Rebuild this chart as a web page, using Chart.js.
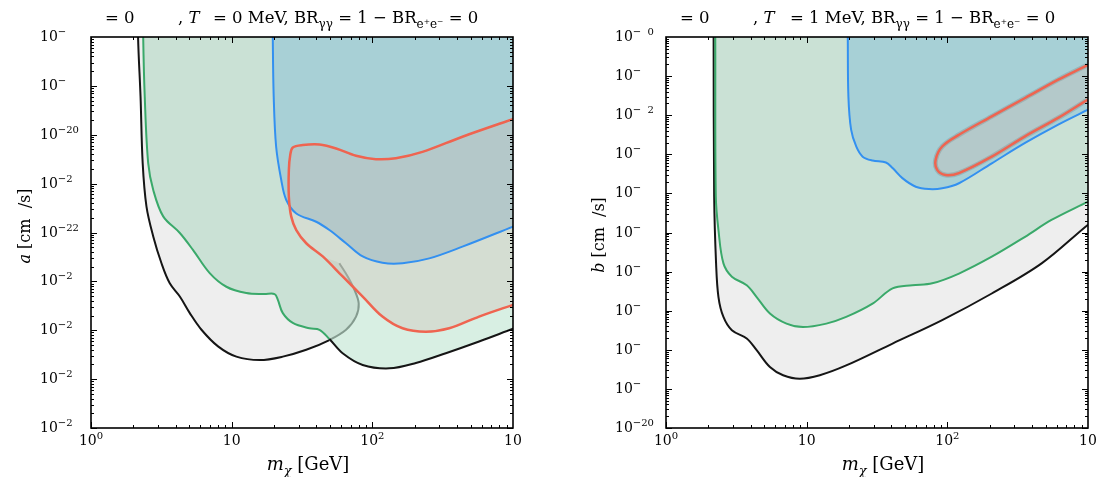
<!DOCTYPE html>
<html>
<head>
<meta charset="utf-8">
<script src="https://cdn.jsdelivr.net/npm/chart.js@4.4.1/dist/chart.umd.min.js"></script>
<style>
  html, body { margin: 0; padding: 0; background: #fff; }
  #wrap { position: relative; width: 1099px; height: 477px; overflow: hidden; }
  canvas { position: absolute; top: 0; }
  #left { left: 0; }
  #right { left: 549px; }
</style>
</head>
<body>
<div id="wrap">
  <canvas id="left" width="549" height="477"></canvas>
  <canvas id="right" width="550" height="477"></canvas>
</div>
<script>
// points are [m_chi in GeV, log10 of the cross section in cm^3/s]
// points past the frame only close the filled shapes

// left panel (T = 0 MeV)
const leftBlack = [[2.15,-17.0],[2.16,-18.0],[2.25,-19.22],[2.33,-20.58],[2.48,-21.47],[2.77,-22.08],[3.17,-22.63],[3.63,-23.04],[4.28,-23.31],[5.04,-23.65],[6.10,-23.99],[8.0,-24.33],[10.8,-24.54],[15.8,-24.61],[23.1,-24.54],[33.9,-24.40],[49.5,-24.20]];
const leftBlackCurl = [[65.0,-23.99],[76.6,-23.72],[80.0,-23.45],[74.5,-23.17],[66.8,-22.90],[58.3,-22.63]];
const leftBlackHidden = [[44.4,-22.49],[33.9,-22.22],[28.8,-21.95],[26.5,-21.67],[24.4,-21.33],[22.5,-20.92],[20.7,-20.24],[19.9,-19.22],[19.6,-18.0],[19.5,-17.0]];
const leftGreen = [[2.34,-17.0],[2.35,-18.0],[2.41,-19.22],[2.55,-20.58],[2.77,-21.13],[3.26,-21.67],[4.28,-22.01],[5.32,-22.36],[6.98,-22.83],[9.17,-23.11],[12.7,-23.24],[17.0,-23.26],[20.2,-23.26],[21.3,-23.38],[23.1,-23.65],[27.2,-23.85],[35.7,-23.96],[42.1,-23.99],[49.5,-24.18]];
const leftGreenLow = [[61.5,-24.47],[85.4,-24.71],[132,-24.78],[204,-24.67],[333,-24.47],[574,-24.23],[1000,-23.97],[1300,-23.85],[1300,-16],[2.3,-16]];
const leftBlue = [[19.5,-17.0],[19.6,-18.0],[19.9,-19.22],[20.7,-20.24],[22.5,-20.92],[24.4,-21.33],[28.8,-21.61],[39.9,-21.78],[49.5,-21.95],[65,-22.22],[85.4,-22.49],[118,-22.62],[164,-22.63],[254,-22.53],[437,-22.29],[1000,-21.88],[1300,-21.75],[1300,-16],[19.5,-16]];
const leftRed = [[1300,-19.57],[1000,-19.68],[437,-20.04],[227,-20.35],[147,-20.48],[106,-20.50],[76.6,-20.43],[55.3,-20.28],[42.1,-20.20],[32.0,-20.21],[27.2,-20.26],[26.1,-20.41],[25.5,-20.72],[25.5,-21.27],[26.5,-21.67],[28.8,-21.95],[33.9,-22.22],[44.4,-22.49],[61.5,-22.90],[85.4,-23.31],[118,-23.72],[164,-23.96],[240,-24.03],[352,-23.96],[574,-23.72],[1000,-23.48],[1300,-23.37]];

// right panel (T = 1 MeV)
const rightBlack = [[2.17,-9],[2.18,-10],[2.20,-14.08],[2.27,-15.79],[2.36,-16.65],[2.56,-17.16],[2.94,-17.50],[3.75,-17.71],[4.41,-18.01],[5.48,-18.44],[6.80,-18.65],[8.93,-18.74],[12.4,-18.65],[19.1,-18.40],[40.8,-17.84],[91.9,-17.24],[207,-16.56],[468,-15.79],[1000,-14.80],[1300,-14.5],[1300,-9]];
const rightGreen = [[2.23,-9],[2.24,-10],[2.26,-14.08],[2.36,-14.94],[2.56,-15.79],[2.94,-16.13],[3.75,-16.35],[4.41,-16.65],[5.48,-17.07],[7.19,-17.33],[9.42,-17.42],[13.8,-17.33],[19.1,-17.16],[29.4,-16.82],[40.8,-16.43],[56.4,-16.35],[78.1,-16.30],[121,-16.05],[207,-15.62],[357,-15.11],[550,-14.68],[1000,-14.21],[1300,-14.0],[1300,-9]];
const rightBlue = [[19.5,-9],[19.6,-10],[19.8,-11.52],[20.7,-12.37],[22.5,-12.80],[25.0,-13.06],[29.4,-13.16],[36.6,-13.21],[40.8,-13.35],[47.9,-13.61],[59.6,-13.83],[74.0,-13.89],[91.9,-13.87],[121,-13.74],[207,-13.23],[357,-12.71],[614,-12.24],[1000,-11.86],[1300,-11.66],[1300,-9]];
const rightRed = [[1300,-10.49],[1000,-10.71],[614,-11.09],[357,-11.56],[207,-12.03],[121,-12.50],[91.9,-12.80],[82.6,-13.14],[84.7,-13.40],[97.1,-13.53],[121,-13.48],[207,-13.06],[357,-12.54],[614,-12.07],[1000,-11.60],[1300,-11.37]];

// tick labels (the exponent glyphs that show in the picture)
const xTickValues = [1, 10, 100, 1000];
const xTickExp = ['0', '', '2', ''];
const leftYTickValues = [-18, -19, -20, -21, -22, -23, -24, -25, -26];
const leftYTickExp = ['−', '−', '−20', '−2', '−22', '−2', '−2', '−2', '−2'];
const rightYTickValues = [-10, -11, -12, -13, -14, -15, -16, -17, -18, -19, -20];
const rightYTickExp = ['−\u20070', '−', '−\u20072', '−', '−', '−', '−', '−', '−', '−', '−20'];

const BLACK = '#151515';
const CURL = '#9b9b9b';
const GREEN = '#3aa96a';
const BLUE = '#3390f0';
const RED = '#ef6450';
const GREY_FILL = 'rgba(0,0,0,0.066)';
const GREEN_FILL = 'rgba(11,155,80,0.16)';
const RED_FILL = 'rgba(202,185,177,0.35)';
const FONT = '"DejaVu Serif", serif';

function drawPieces(ctx, x, y, pieces, size, measureOnly) {
    for (const p of pieces) {
        let fs = size, dy = 0, style = '';
        if (p.f === 'i') style = 'italic ';
        if (p.f === 'sub' || p.f === 'subi') { fs = Math.round(size * 0.7); dy = size * 0.28; }
        if (p.f === 'subi') style = 'italic ';
        ctx.font = style + fs + 'px ' + FONT;
        if (!measureOnly) ctx.fillText(p.t, x, y + dy);
        x += ctx.measureText(p.t).width;
    }
    return x;
}

function drawPow(ctx, x, y, exp, center) {
    ctx.font = '14px ' + FONT;
    const w1 = ctx.measureText('10').width;
    ctx.font = '10px ' + FONT;
    const w2 = ctx.measureText(exp).width;
    if (center) x -= (w1 + w2) / 2;
    ctx.font = '14px ' + FONT;
    ctx.fillText('10', x, y);
    ctx.font = '10px ' + FONT;
    ctx.fillText(exp, x + w1, y - 6);
}

const decor = {
    id: 'decor',
    afterDraw(chart, args, o) {
        const ctx = chart.ctx, a = chart.chartArea;
        const xs = chart.scales.x, ys = chart.scales.y;
        ctx.save();
        ctx.strokeStyle = '#000';
        ctx.lineWidth = 1;
        ctx.beginPath();
        for (let d = 0; d < 3; d++) {
            for (let k = 1; k < 10; k++) {
                const px = Math.round(xs.getPixelForValue(k * Math.pow(10, d))) + 0.5;
                const len = k === 1 ? 6 : 3;
                ctx.moveTo(px, a.bottom); ctx.lineTo(px, a.bottom - len);
                ctx.moveTo(px, a.top); ctx.lineTo(px, a.top + len);
            }
        }
        for (let e = ys.min; e < ys.max; e++) {
            for (let k = 1; k < 10; k++) {
                const py = Math.round(ys.getPixelForValue(e + Math.log10(k))) + 0.5;
                const len = k === 1 ? 6 : 3;
                ctx.moveTo(a.left, py); ctx.lineTo(a.left + len, py);
                ctx.moveTo(a.right, py); ctx.lineTo(a.right - len, py);
            }
        }
        ctx.stroke();
        ctx.lineWidth = 1.6;
        ctx.strokeRect(a.left, a.top, a.right - a.left, a.bottom - a.top);

        ctx.fillStyle = '#000';
        ctx.textBaseline = 'alphabetic';
        ctx.textAlign = 'left';
        xTickValues.forEach((v, i) => drawPow(ctx, xs.getPixelForValue(v), 445, xTickExp[i], true));
        o.yValues.forEach((v, i) => drawPow(ctx, o.yLabelX, ys.getPixelForValue(v) + 4, o.yExp[i], false));

        // panel title
        o.title.forEach(g => drawPieces(ctx, g.x, 23, g.pieces, 16.5));

        // x title
        const xt = [{t: 'm', f: 'i'}, {t: 'χ', f: 'subi'}, {t: ' [GeV]'}];
        const w = drawPieces(ctx, 0, 0, xt, 18, true);
        drawPieces(ctx, (a.left + a.right) / 2 - w / 2 + 6, 470, xt, 18);

        // y title
        const yt = [{t: o.yVar, f: 'i'}, {t: ' [cm  /s]'}];
        const wy = drawPieces(ctx, 0, 0, yt, 16, true);
        ctx.translate(o.yTitleX, o.yTitleY);
        ctx.rotate(-Math.PI / 2);
        drawPieces(ctx, -wy / 2, 6, yt, 16);
        ctx.restore();
    }
};

// filled area only, no outline
function area(data, color, order) {
    return { data: data, showLine: true, pointRadius: 0, fill: 'shape', backgroundColor: color,
             borderWidth: 0, borderColor: 'rgba(0,0,0,0)', tension: 0.35, order: order };
}

// outline only
function outline(data, color, width, order, extra) {
    return Object.assign({ data: data, showLine: true, pointRadius: 0, fill: false,
             borderColor: color, borderWidth: width, tension: 0.35, order: order }, extra || {});
}

function makeChart(id, datasets, pad, yMin, yMax, decorOpts) {
    return new Chart(document.getElementById(id), {
        type: 'scatter',
        data: { datasets: datasets },
        options: {
            responsive: false,
            animation: false,
            devicePixelRatio: 1,
            layout: { padding: pad },
            scales: {
                x: { type: 'logarithmic', min: 1, max: 1000, display: false },
                y: { type: 'linear', min: yMin, max: yMax, display: false }
            },
            plugins: {
                legend: { display: false },
                tooltip: { enabled: false },
                decor: decorOpts
            }
        },
        plugins: [decor]
    });
}

// left chart
const nB = leftBlack.length, nG = leftGreen.length;
const leftGreenAll = leftGreen.concat(leftGreenLow);
makeChart('left', [
    outline(leftRed, RED, 2.5, 0),
    outline(leftBlue, BLUE, 2, 1),
    area(leftRed, RED_FILL, 2),
    area(leftBlue, 'rgba(24,115,175,0.25)', 3),
    outline(leftGreenAll, GREEN, 2, 4, {
        segment: { borderColor: c => c.p0DataIndex < nG - 1 ? GREEN : BLACK }
    }),
    area(leftGreenAll, GREEN_FILL, 5),
    outline(leftBlack.concat(leftBlackCurl), BLACK, 2, 6, {
        segment: { borderColor: c => c.p0DataIndex < nB - 1 ? BLACK : CURL }
    }),
    area(leftBlack.concat(leftBlackCurl, leftBlackHidden), GREY_FILL, 7)
], { left: 91, right: 36, top: 37, bottom: 49 }, -26, -18, {
    yValues: leftYTickValues, yExp: leftYTickExp, yLabelX: 40,
    yVar: 'a', yTitleX: 24, yTitleY: 226,
    title: [
        { x: 105, pieces: [{t: '= 0'}] },
        { x: 178, pieces: [{t: ', '}, {t: 'T', f: 'i'}] },
        { x: 213, pieces: [{t: '= 0 MeV, BR'}, {t: 'γγ', f: 'sub'}, {t: ' = 1 − BR'}, {t: 'e⁺e⁻', f: 'sub'}, {t: ' = 0'}] }
    ]
});

// right chart
makeChart('right', [
    outline(rightRed, RED, 2.5, 0),
    outline(rightRed, 'rgba(90,90,90,0.22)', 5, 1),
    area(rightRed, RED_FILL, 2),
    outline(rightBlue, BLUE, 2, 3),
    area(rightBlue, 'rgba(32,140,218,0.2)', 4),
    outline(rightGreen, GREEN, 2, 5),
    area(rightGreen, GREEN_FILL, 6),
    outline(rightBlack, BLACK, 2, 7),
    area(rightBlack, GREY_FILL, 8)
], { left: 117, right: 11, top: 37, bottom: 49 }, -20, -10, {
    yValues: rightYTickValues, yExp: rightYTickExp, yLabelX: 66,
    yVar: 'b', yTitleX: 49, yTitleY: 235,
    title: [
        { x: 680 - 549, pieces: [{t: '= 0'}] },
        { x: 753 - 549, pieces: [{t: ', '}, {t: 'T', f: 'i'}] },
        { x: 790 - 549, pieces: [{t: '= 1 MeV, BR'}, {t: 'γγ', f: 'sub'}, {t: ' = 1 − BR'}, {t: 'e⁺e⁻', f: 'sub'}, {t: ' = 0'}] }
    ]
});
</script>
</body>
</html>
